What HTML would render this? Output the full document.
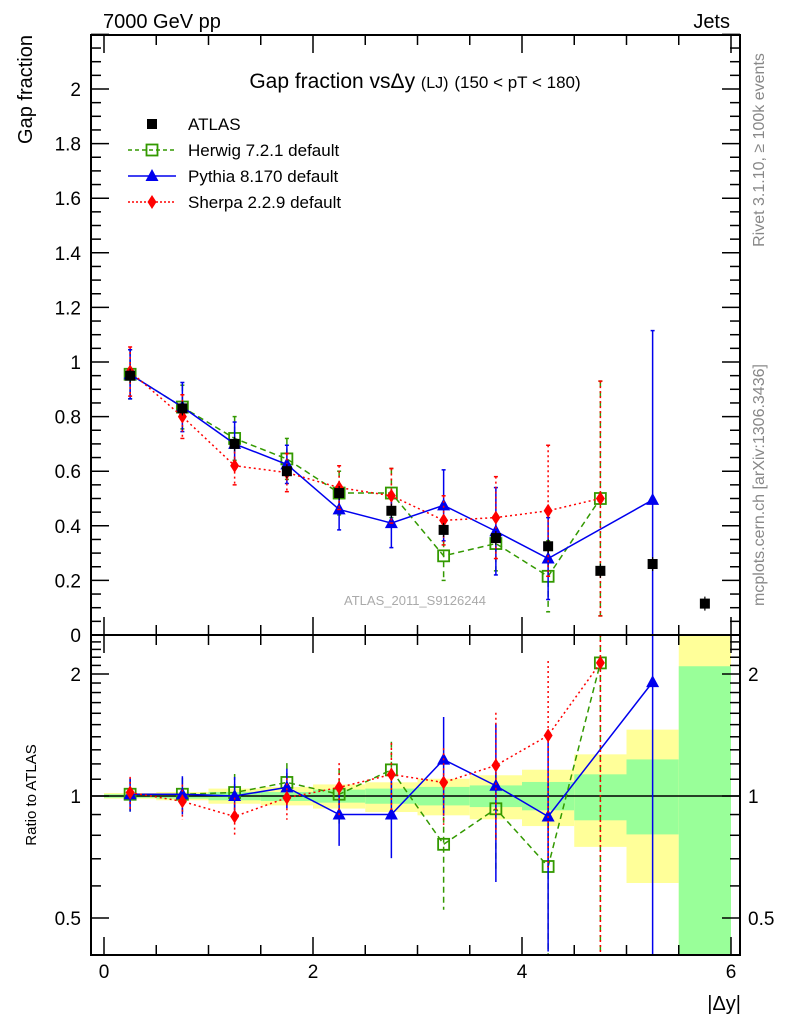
<!DOCTYPE html>
<html><head><meta charset="utf-8"><style>
html,body{margin:0;padding:0;background:#fff;}
svg{display:block;font-family:"Liberation Sans",sans-serif;}
</style></head><body>
<svg id="c" width="786" height="1024" xmlns="http://www.w3.org/2000/svg">
<g id="bands"></g>
<g id="series"></g>
<g id="axes"></g>
<text x="103" y="28" font-size="20">7000 GeV pp</text>
<text x="730" y="28" font-size="20" text-anchor="end">Jets</text>
<text x="415" y="88" font-size="21" text-anchor="middle">Gap fraction vs<tspan>Δy</tspan> <tspan font-size="16">(LJ)</tspan> <tspan font-size="17">(150 &lt; pT &lt; 180)</tspan></text>
<text transform="translate(32,35) rotate(-90)" font-size="20" text-anchor="end">Gap fraction</text>
<text transform="translate(36,795) rotate(-90)" font-size="15" text-anchor="middle">Ratio to ATLAS</text>
<text x="741" y="1010" font-size="20" text-anchor="end">|Δy|</text>
<text transform="translate(764,150) rotate(-90)" font-size="16" fill="#888" text-anchor="middle">Rivet 3.1.10, ≥ 100k events</text>
<text transform="translate(764,485) rotate(-90)" font-size="16" fill="#888" text-anchor="middle">mcplots.cern.ch [arXiv:1306.3436]</text>
<text x="415" y="605" font-size="13" fill="#aaa" text-anchor="middle">ATLAS_2011_S9126244</text>
<g id="legend"></g>
</svg>
<script>
const xCenters=[0.25,0.75,1.25,1.75,2.25,2.75,3.25,3.75,4.25,4.75,5.25,5.75];
const atlasVals=[0.95,0.83,0.70,0.60,0.52,0.455,0.385,0.355,0.325,0.235,0.26,0.115];
const herwigX=[0.25,0.75,1.25,1.75,2.25,2.75,3.25,3.75,4.25,4.75];
const herwigVals=[0.955,0.835,0.72,0.645,0.52,0.52,0.29,0.335,0.215,0.50];
const herwigErr=[0.09,0.08,0.08,0.075,0.08,0.09,0.09,0.1,0.13,0.43];
const pythiaX=[0.25,0.75,1.25,1.75,2.25,2.75,3.25,3.75,4.25,5.25];
const pythiaVals=[0.955,0.835,0.70,0.625,0.46,0.41,0.475,0.38,0.28,0.495];
const pythiaErr=[0.09,0.09,0.08,0.07,0.075,0.09,0.13,0.16,0.15,0.62];
const sherpaX=[0.25,0.75,1.25,1.75,2.25,2.75,3.25,3.75,4.25,4.75];
const sherpaVals=[0.965,0.80,0.62,0.595,0.54,0.51,0.42,0.43,0.455,0.50];
const sherpaErr=[0.09,0.08,0.07,0.07,0.08,0.1,0.09,0.15,0.24,0.43];
const herwigRatio=[1.01,1.01,1.02,1.08,1.01,1.16,0.76,0.93,0.67,2.13];
const pythiaRatio=[1.01,1.01,1.0,1.05,0.9,0.9,1.23,1.06,0.89,1.91];
const sherpaRatio=[1.02,0.97,0.89,0.99,1.05,1.13,1.08,1.19,1.41,2.13];
const yellowHi=[1.017,1.023,1.043,1.053,1.068,1.081,1.103,1.125,1.161,1.267,1.458,2.6];
const yellowLo=[0.985,0.976,0.957,0.948,0.931,0.913,0.896,0.876,0.843,0.749,0.61,0.3];
const greenHi=[1.01,1.013,1.023,1.023,1.037,1.043,1.053,1.062,1.083,1.131,1.231,2.09];
const greenLo=[0.99,0.985,0.976,0.972,0.963,0.957,0.948,0.939,0.922,0.871,0.804,0.3];
const mainTicks=[0,0.2,0.4,0.6,0.8,1,1.2,1.4,1.6,1.8,2];
const ratioTicks=[0.5,1,2];
const xTicks=[0,2,4,6];

const NS='http://www.w3.org/2000/svg';
const L=91,R=740,T=35,MB=635,RB=955;
const X=v=>104+v*104.5;
const Y=v=>MB-v*273;
const Yr=v=>{let y=796-122*Math.log2(v);return Math.max(MB,Math.min(RB,y));};
function el(tag,attrs,parent){const e=document.createElementNS(NS,tag);for(const k in attrs)e.setAttribute(k,attrs[k]);parent.appendChild(e);return e;}
const bands=document.getElementById('bands'),axes=document.getElementById('axes'),series=document.getElementById('series'),legend=document.getElementById('legend');

xCenters.forEach((c,i)=>{
  const x0=X(c-0.25),x1=Math.min(X(c+0.25),R);
  const yb=el('rect',{x:x0,y:Yr(yellowHi[i]),width:x1-x0,height:Yr(yellowLo[i])-Yr(yellowHi[i]),fill:'#ffff99'},bands);
  
  
  const gb=el('rect',{x:x0,y:Yr(greenHi[i]),width:x1-x0,height:Yr(greenLo[i])-Yr(greenHi[i]),fill:'#99ff99'},bands);
  
  
});
el('line',{x1:L,x2:R,y1:Yr(1),y2:Yr(1),stroke:'#000','stroke-width':1.5},bands);

el('rect',{x:L,y:T,width:R-L,height:MB-T,fill:'none',stroke:'#000','stroke-width':2},axes);
el('rect',{x:L,y:MB,width:R-L,height:RB-MB,fill:'none',stroke:'#000','stroke-width':2},axes);
for(let v=0;v<=2.2001;v+=0.05){const maj=Math.abs(v/0.2-Math.round(v/0.2))<1e-6;const len=maj?18:10;
  el('line',{x1:L,x2:L+len,y1:Y(v),y2:Y(v),stroke:'#000','stroke-width':1.5},axes);
  el('line',{x1:R,x2:R-len,y1:Y(v),y2:Y(v),stroke:'#000','stroke-width':1.5},axes);}
mainTicks.forEach(v=>{const t=el('text',{x:L-10,y:Y(v)+7,'font-size':19,'text-anchor':'end'},axes);t.textContent=String(v);
  
  });
for(let v=0.5;v<=2.5001;v+=0.1){const maj=ratioTicks.some(r=>Math.abs(r-v)<1e-6);const len=maj?18:10;
  el('line',{x1:L,x2:L+len,y1:Yr(v),y2:Yr(v),stroke:'#000','stroke-width':1.5},axes);
  el('line',{x1:R,x2:R-len,y1:Yr(v),y2:Yr(v),stroke:'#000','stroke-width':1.5},axes);}
ratioTicks.forEach(v=>{
  const t=el('text',{x:L-10,y:Yr(v)+7,'font-size':19,'text-anchor':'end'},axes);t.textContent=String(v);
  
  
  const t2=el('text',{x:R+8,y:Yr(v)+7,'font-size':19},axes);t2.textContent=String(v);
  
  });
for(let v=0;v<=6.0001;v+=0.5){const maj=Math.abs(v%2)<1e-6;const len=maj?18:10;
  [MB,RB].forEach(b=>el('line',{x1:X(v),x2:X(v),y1:b,y2:b-len,stroke:'#000','stroke-width':1.5},axes));
  el('line',{x1:X(v),x2:X(v),y1:T,y2:T+len,stroke:'#000','stroke-width':1.5},axes);
  el('line',{x1:X(v),x2:X(v),y1:MB,y2:MB+len,stroke:'#000','stroke-width':1.5},axes);}
xTicks.forEach(v=>{const t=el('text',{x:X(v),y:978,'font-size':19,'text-anchor':'middle'},axes);t.textContent=String(v);
  
  });

function marker(kind,x,y,color,g){
  if(kind==='sq')el('rect',{x:x-5.5,y:y-5.5,width:11,height:11,fill:'none',stroke:color,'stroke-width':1.8},g);
  else if(kind==='tri')el('polygon',{points:`${x},${y-7} ${x-6.5},${y+5} ${x+6.5},${y+5}`,fill:color},g);
  else if(kind==='dia')el('polygon',{points:`${x},${y-7} ${x-4.5},${y} ${x},${y+7} ${x+4.5},${y}`,fill:color},g);
  else el('rect',{x:x-5,y:y-5,width:10,height:10,fill:color},g);
}
const defs=[
 {name:'herwig',xs:herwigX,vals:herwigVals,err:herwigErr,ratio:herwigRatio,color:'#339900',dash:'6,4',kind:'sq'},
 {name:'pythia',xs:pythiaX,vals:pythiaVals,err:pythiaErr,ratio:pythiaRatio,color:'#0000ee',dash:'',kind:'tri'},
 {name:'sherpa',xs:sherpaX,vals:sherpaVals,err:sherpaErr,ratio:sherpaRatio,color:'#ff0000',dash:'2,3',kind:'dia'}];
defs.forEach(s=>{
  const g=el('g',{},series);
  
  
  const cl=v=>Math.max(T,Math.min(MB,v));
  const ptsM=s.vals.map((v,i)=>X(s.xs[i])+','+Y(v)).join(' ');
  const ptsR=s.ratio.map((v,i)=>X(s.xs[i])+','+Yr(v)).join(' ');
  el('polyline',{points:ptsM,fill:'none',stroke:s.color,'stroke-width':1.5,'stroke-dasharray':s.dash},g);
  el('polyline',{points:ptsR,fill:'none',stroke:s.color,'stroke-width':1.5,'stroke-dasharray':s.dash},g);
  s.vals.forEach((v,i)=>{const x=X(s.xs[i]);
    const y1=cl(Y(v+s.err[i])),y2=cl(Y(v-s.err[i]));
    el('line',{x1:x,x2:x,y1:y1,y2:y2,stroke:s.color,'stroke-width':1.5,'stroke-dasharray':s.dash},g);
    el('line',{x1:x-2,x2:x+2,y1:y1,y2:y1,stroke:s.color,'stroke-width':1.5},g);
    el('line',{x1:x-2,x2:x+2,y1:y2,y2:y2,stroke:s.color,'stroke-width':1.5},g);
    const rel=s.err[i]/v,r=s.ratio[i];
    const r1=Yr(r*(1+rel)),r2=(r*(1-rel)>0.05)?Yr(r*(1-rel)):RB;
    el('line',{x1:x,x2:x,y1:r1,y2:r2,stroke:s.color,'stroke-width':1.5,'stroke-dasharray':s.dash},g);
    marker(s.kind,x,Y(v),s.color,g);
    marker(s.kind,x,Yr(r),s.color,g);
  });
});
const ga=el('g',{},series);


atlasVals.forEach((v,i)=>{const x=X(xCenters[i]);
  el('line',{x1:x,x2:x,y1:Y(v)-7,y2:Y(v)+7,stroke:'#000','stroke-width':1.2},ga);
  marker('atlas',x,Y(v),'#000',ga);});

const leg=[['ATLAS','#000','','atlas'],['Herwig 7.2.1 default','#339900','4,3','sq'],['Pythia 8.170 default','#0000ee','','tri'],['Sherpa 2.2.9 default','#ff0000','2,2','dia']];
leg.forEach((l,i)=>{const y=124+i*26;const g=el('g',{},legend);
  
  
  if(i>0)el('line',{x1:128,x2:176,y1:y,y2:y,stroke:l[1],'stroke-width':1.5,'stroke-dasharray':l[2]},g);
  marker(l[3],152,y,l[1],g);
  const t=el('text',{x:188,y:y+6,'font-size':17},g);t.textContent=l[0];});
</script>
</body></html>
